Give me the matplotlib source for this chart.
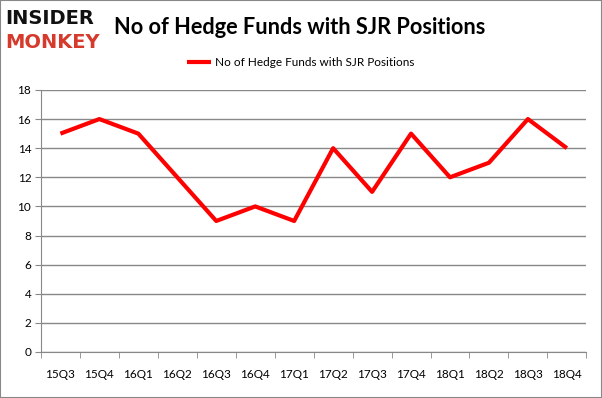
import matplotlib
matplotlib.use("Agg")
from matplotlib import pyplot as plt
from matplotlib.patches import Rectangle

quarters = ["15Q3", "15Q4", "16Q1", "16Q2", "16Q3", "16Q4", "17Q1",
            "17Q2", "17Q3", "17Q4", "18Q1", "18Q2", "18Q3", "18Q4"]
funds = [15, 16, 15, 12, 9, 10, 9, 14, 11, 15, 12, 13, 16, 14]
yticks = list(range(0, 20, 2))
series_name = "No of Hedge Funds with SJR Positions"

plt.rcParams['font.family'] = ['Lato', 'DejaVu Sans']

fig = plt.figure(figsize=(6.02, 3.98), dpi=100)
ax = fig.add_axes([0.068, 0.1156, 0.906, 0.6584])

x = range(len(quarters))
ax.plot(x, funds, color='#ff0000', lw=3, solid_capstyle='butt', label=series_name)

ax.set_xlim(-0.5, len(quarters) - 0.5)
ax.set_ylim(0, 18)
ax.set_yticks(yticks)
ax.set_xticks(x)
ax.set_xticklabels(quarters)
ax.set_xticks([i - 0.5 for i in range(len(quarters) + 1)], minor=True)
ax.tick_params(axis='x', which='major', length=0, pad=12, labelsize=8.5)
ax.tick_params(axis='x', which='minor', length=4, color='#888888')
ax.tick_params(axis='y', length=4, color='#888888', labelsize=8.5, pad=3)
ax.grid(axis='y', color='#888888', lw=1)
ax.set_axisbelow(True)
for s in ['top', 'right']:
    ax.spines[s].set_visible(False)
for s in ['left', 'bottom']:
    ax.spines[s].set_color('#888888')

fig.text(0.19, 0.932, series_name, fontsize=15.7, fontweight='bold', va='center')
fig.text(0.008, 0.953, "INSIDER", fontsize=14, fontweight='bold', color='#111111',
         va='center', family='DejaVu Sans')
fig.text(0.008, 0.893, "MONKEY", fontsize=14, fontweight='bold', color='#d63a2c',
         va='center', family='DejaVu Sans')

fig.legend(loc='center', bbox_to_anchor=(0.5, 0.843), frameon=False, fontsize=8.5,
           handlelength=2.0, handletextpad=0.4)

fig.patches.append(Rectangle((0, 0), 1, 1, transform=fig.transFigure, fill=False,
                             edgecolor='#888888', lw=1.5))

fig.savefig('out.png', dpi=100)
